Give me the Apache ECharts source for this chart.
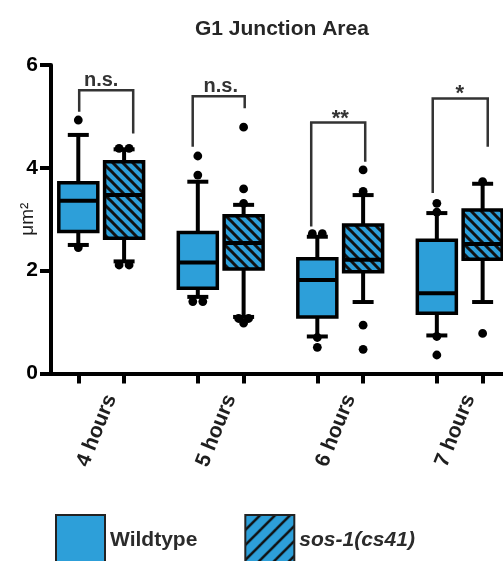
<!DOCTYPE html>
<html><head><meta charset="utf-8">
<script src="https://cdn.jsdelivr.net/npm/echarts@6/dist/echarts.min.js"></script>
<style>html,body{margin:0;padding:0;background:#fff}#chart{width:503px;height:561px}</style>
</head><body><div id="chart"></div>
<script>
// ---------- data ----------
const chartTitle = 'G1 Junction Area';
const yAxisName = 'μm²';
const categories = ['4 hours', '5 hours', '6 hours', '7 hours'];
const seriesNames = ['Wildtype', 'sos-1(cs41)'];
const yTickValues = [0, 2, 4, 6];
// per time point: [lower whisker, Q1, median, Q3, upper whisker]
const wildtypeBox = [
  [2.50, 2.76, 3.36, 3.71, 4.64],
  [1.49, 1.66, 2.16, 2.74, 3.73],
  [0.72, 1.10, 1.82, 2.23, 2.66],
  [0.74, 1.17, 1.56, 2.59, 3.12]
];
const sosBox = [
  [2.18, 2.63, 3.47, 4.12, 4.36],
  [1.10, 2.03, 2.54, 3.07, 3.28],
  [1.39, 1.98, 2.21, 2.89, 3.47],
  [1.39, 2.22, 2.52, 3.18, 3.69]
];
// individual points outside the whiskers
const wildtypeOutliers = [
  [4.93, 2.45],
  [4.23, 3.86, 1.40, 1.40],
  [2.72, 2.72, 0.70, 0.51],
  [3.31, 3.14, 0.72, 0.36]
];
const sosOutliers = [
  [4.38, 4.38, 2.11, 2.11],
  [4.79, 3.59, 3.31, 1.07, 1.07, 0.98],
  [3.96, 3.54, 0.94, 0.47],
  [3.73, 0.78]
];
// significance brackets
const sigLabels = ['n.s.', 'n.s.', '**', '*'];
const sigTop = [5.51, 5.39, 4.88, 5.35];
const sigLeftEnd = [5.09, 4.41, 2.86, 3.51];
const sigRightEnd = [4.67, 5.16, 4.12, 4.41];

// ---------- layout / style ----------
const BLUE = '#2D9FD9';
const PAIR_SHIFT = 0.1916;          // box offset from group centre (category units)
const BOX_W = 39, CAP_W = 21, DOT_R = 4.4, DOT_SPREAD = 10;
const bracketLegPx = [[-22, 32], [-28, 24], [-29, 25], [-27, 28]];
const FONT = '"Liberation Sans", Arial, Helvetica, sans-serif';

function stripes(size, lw, dir, bg) {
  const c = document.createElement('canvas');
  c.width = size; c.height = size;
  const ctx = c.getContext('2d');
  ctx.fillStyle = bg; ctx.fillRect(0, 0, size, size);
  ctx.strokeStyle = '#111'; ctx.lineWidth = lw;
  for (let k = -1; k <= 1; k++) {
    ctx.beginPath();
    if (dir === 'back') { ctx.moveTo(-2, -2 + k * size); ctx.lineTo(size + 2, size + 2 + k * size); }
    else { ctx.moveTo(-2, size + 2 + k * size); ctx.lineTo(size + 2, -2 + k * size); }
    ctx.stroke();
  }
  return { image: c, repeat: 'repeat' };
}
const boxHatch = stripes(10, 3, 'back', BLUE);
const legendHatch = stripes(15, 2.5, 'fwd', BLUE);

function boxRenderer(fill) {
  return function (params, api) {
    const x = api.value(0);
    const pts = [1, 2, 3, 4, 5].map(d => api.coord([x, api.value(d)]));
    const cx = pts[0][0];
    const [yMin, yQ1, yMed, yQ3, yMax] = pts.map(p => p[1]);
    const ls = { stroke: '#000', lineWidth: 4 };
    return { type: 'group', children: [
      { type: 'line', shape: { x1: cx, y1: yMax, x2: cx, y2: yQ3 }, style: ls },
      { type: 'line', shape: { x1: cx, y1: yQ1, x2: cx, y2: yMin }, style: ls },
      { type: 'line', shape: { x1: cx - CAP_W / 2, y1: yMax, x2: cx + CAP_W / 2, y2: yMax }, style: ls },
      { type: 'line', shape: { x1: cx - CAP_W / 2, y1: yMin, x2: cx + CAP_W / 2, y2: yMin }, style: ls },
      { type: 'rect', shape: { x: cx - BOX_W / 2, y: yQ3, width: BOX_W, height: yQ1 - yQ3 },
        style: { fill: fill, stroke: '#000', lineWidth: 3.5 } },
      { type: 'line', shape: { x1: cx - BOX_W / 2, y1: yMed, x2: cx + BOX_W / 2, y2: yMed }, style: ls }
    ] };
  };
}

function boxData(stats, sign) {
  return stats.map((s, i) => [i + sign * PAIR_SHIFT].concat(s));
}
function outlierData(lists, sign) {
  const out = [];
  lists.forEach((vals, i) => {
    vals.forEach((v, j) => {
      const same = vals.filter(w => Math.abs(w - v) < 0.03);
      const rank = vals.slice(0, j).filter(w => Math.abs(w - v) < 0.03).length;
      out.push([i + sign * PAIR_SHIFT, v, rank - (same.length - 1) / 2]);
    });
  });
  return out;
}
const outliers = outlierData(wildtypeOutliers, -1).concat(outlierData(sosOutliers, 1));
const bracketData = categories.map((c, i) => [i, sigTop[i], sigLeftEnd[i], sigRightEnd[i]]);
const tickPositions = categories.flatMap((c, i) => [i - PAIR_SHIFT, i + PAIR_SHIFT]);

const chart = echarts.init(document.getElementById('chart'), null, { renderer: 'canvas' });
chart.setOption({
  animation: false,
  backgroundColor: '#fff',
  title: { text: chartTitle, left: 195, top: 19, padding: 0,
    textStyle: { fontFamily: FONT, fontSize: 21, fontWeight: 'bold', color: '#262626' } },
  legend: {
    left: 55, top: 514, padding: 0, itemWidth: 49, itemHeight: 50, itemGap: 47, icon: 'rect', selectedMode: false,
    textStyle: { fontFamily: FONT, fontSize: 21, fontWeight: 'bold', color: '#2b2b2b' },
    data: [
      { name: seriesNames[0], itemStyle: { color: BLUE, borderColor: '#222', borderWidth: 2 } },
      { name: seriesNames[1], itemStyle: { color: legendHatch, borderColor: '#222', borderWidth: 2 },
        textStyle: { fontStyle: 'italic' } }
    ]
  },
  grid: { left: 51, right: 0, top: 65, bottom: 187.5 },
  xAxis: {
    type: 'value', min: -0.42, max: 3.362,
    axisLine: { onZero: false, lineStyle: { color: '#000', width: 4 } },
    axisTick: { show: true, customValues: tickPositions, length: 10, lineStyle: { color: '#000', width: 4 } },
    axisLabel: { customValues: categories.map((c, i) => i), formatter: v => categories[Math.round(v)],
      rotate: 68, margin: 18, verticalAlign: 'top', fontFamily: FONT, fontSize: 21, fontWeight: 'bold', color: '#1e1e1e' },
    splitLine: { show: false }
  },
  yAxis: {
    type: 'value', min: 0, max: 6, interval: 2,
    name: yAxisName, nameLocation: 'middle', nameGap: 14, nameMoveOverlap: false,
    nameTextStyle: { fontFamily: FONT, fontSize: 19, color: '#1e1e1e' },
    axisLine: { show: true, onZero: false, lineStyle: { color: '#000', width: 4 } },
    axisTick: { show: true, length: 11, lineStyle: { color: '#000', width: 4 } },
    axisLabel: { margin: 13, fontFamily: FONT, fontSize: 21, fontWeight: 'bold', color: '#000',
      formatter: v => (yTickValues.indexOf(v) >= 0 ? String(v) : '') },
    splitLine: { show: false }
  },
  series: [
    { type: 'custom', name: 'points', z: 2, data: outliers, encode: { x: 0, y: 1 },
      renderItem: function (params, api) {
        const p = api.coord([api.value(0), api.value(1)]);
        return { type: 'circle', shape: { cx: p[0] + api.value(2) * DOT_SPREAD, cy: p[1], r: DOT_R },
          style: { fill: '#000' } };
      } },
    { type: 'custom', name: seriesNames[0], z: 3, itemStyle: { color: BLUE },
      data: boxData(wildtypeBox, -1), encode: { x: 0, y: [1, 2, 3, 4, 5] }, renderItem: boxRenderer(BLUE) },
    { type: 'custom', name: seriesNames[1], z: 3, itemStyle: { color: legendHatch },
      data: boxData(sosBox, 1), encode: { x: 0, y: [1, 2, 3, 4, 5] }, renderItem: boxRenderer(boxHatch) },
    { type: 'custom', name: 'significance', z: 4, data: bracketData, encode: { x: 0, y: [1, 2, 3] },
      renderItem: function (params, api) {
        const i = params.dataIndex;
        const g = api.value(0);
        const cx = api.coord([g, 0])[0];
        const yTop = api.coord([g, api.value(1)])[1];
        const yL = api.coord([g, api.value(2)])[1];
        const yR = api.coord([g, api.value(3)])[1];
        const xl = cx + bracketLegPx[i][0], xr = cx + bracketLegPx[i][1];
        const star = sigLabels[i].indexOf('*') >= 0;
        return { type: 'group', children: [
          { type: 'polyline', shape: { points: [[xl, yL], [xl, yTop], [xr, yTop], [xr, yR]] },
            style: { stroke: '#333', lineWidth: 2.5, fill: null } },
          { type: 'text', x: cx, y: yTop - (star ? 4 : 10),
            style: { text: sigLabels[i], fill: '#333', font: 'bold ' + (star ? 22 : 20) + 'px ' + FONT,
              align: 'center', verticalAlign: 'middle' } }
        ] };
      } }
  ]
});
</script></body></html>
